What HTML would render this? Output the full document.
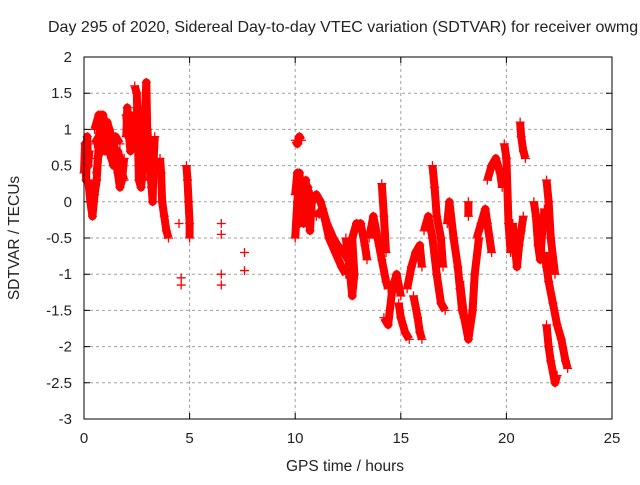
<!DOCTYPE html>
<html><head><meta charset="utf-8"><style>
body{margin:0;background:#fff;}
svg text{font-family:"Liberation Sans",sans-serif;fill:#222;}
</style></head><body>
<svg id="chart" width="640" height="480" xmlns="http://www.w3.org/2000/svg">
<text x="48" y="32" font-size="16">Day 295 of 2020, Sidereal Day-to-day VTEC variation (SDTVAR) for receiver owmg</text>
<text transform="translate(19,238) rotate(-90)" text-anchor="middle" font-size="15.5">SDTVAR / TECUs</text>
<text x="345" y="471" text-anchor="middle" font-size="15.5">GPS time / hours</text>
<g id="grid"></g>
<g id="ticks"></g>
<g id="marks"></g>
<rect x="84" y="57" width="528" height="362" fill="none" stroke="#000" stroke-width="1"/>
</svg>
<script>
const xTicks=[0,5,10,15,20,25];
const xTickLabels=["0","5","10","15","20","25"];
const yTicks=[2,1.5,1,0.5,0,-0.5,-1,-1.5,-2,-2.5,-3];
const yTickLabels=["2","1.5","1","0.5","0","-0.5","-1","-1.5","-2","-2.5","-3"];
const arcs=[
[[0,0.4],[0.05,0.8],[0.1,0.3],[0.15,0.9],[0.2,0.5],[0.25,0.7]],
[[0.2,0.3],[0.3,0],[0.4,-0.2],[0.5,0.1],[0.6,0.3],[0.7,0.8],[0.8,1.2]],
[[0.5,1.0],[0.7,1.2],[0.9,1.0],[1.0,0.7],[1.1,1.1],[1.2,1.0],[1.4,0.8],[1.5,0.6],[1.6,0.4],[1.7,0.2],[1.8,0.3],[1.9,0.6]],
[[0.6,0.6],[0.8,0.7],[1.0,0.9],[1.3,0.6],[1.5,0.9],[1.7,0.8]],
[[0.5,0.8],[0.7,0.9],[0.9,1.2],[1.1,0.8],[1.3,0.9],[1.5,0.7],[1.7,0.5],[1.9,0.3]],
[[0.6,0.4],[0.8,1.0],[1.0,1.1],[1.2,0.7],[1.4,0.5],[1.6,0.7],[1.8,0.5]],
[[2.0,0.9],[2.05,1.3],[2.1,1.0],[2.2,0.7],[2.3,1.1]],
[[2.0,1.2],[2.1,0.9],[2.2,1.2],[2.3,1.0]],
[[2.4,1.6],[2.5,1.5],[2.55,0.9],[2.6,0.3],[2.7,0.2],[2.8,0.5],[2.9,1.3],[2.95,1.65],[3.0,0.9]],
[[2.5,1.3],[2.6,1.0],[2.7,0.5],[2.8,0.3]],
[[3.0,1.0],[3.1,0.6],[3.2,0.2],[3.25,0],[3.3,0.6],[3.35,0.9]],
[[3.6,0.6],[3.65,0.4],[3.7,0],[3.8,-0.2],[3.9,-0.4],[4.0,-0.5]],
[[4.5,-0.3]],[[4.6,-1.05]],[[4.6,-1.15]],
[[4.85,0.5],[4.9,0.3],[4.95,0],[5.0,-0.3],[5.0,-0.5]],
[[6.5,-0.3]],[[6.5,-0.45]],[[6.5,-1.0]],[[6.5,-1.15]],[[7.6,-0.7]],[[7.6,-0.95]],
[[10.0,0.85],[10.1,0.8],[10.2,0.9],[10.3,0.85]],
[[10.0,-0.5],[10.1,0],[10.2,0.4],[10.3,-0.2],[10.4,0.2],[10.5,0.3],[10.6,-0.3],[10.7,0.1],[10.8,-0.2]],
[[10.0,0.1],[10.1,0.4],[10.2,-0.3],[10.3,0.3],[10.4,-0.3],[10.5,0],[10.6,0.2],[10.7,-0.4],[10.8,0.1]],
[[10.8,0],[11.0,0.1],[11.2,0],[11.5,-0.3],[11.8,-0.5],[12.0,-0.6],[12.3,-0.7],[12.5,-0.8]],
[[11.0,-0.2],[11.3,-0.1],[11.6,-0.5],[11.9,-0.7],[12.2,-0.9],[12.4,-1.0]],
[[12.4,-0.5],[12.6,-1.0],[12.7,-1.3],[12.8,-1.0],[12.7,-0.5],[12.9,-0.3],[13.1,-0.3],[13.3,-0.6],[13.4,-0.8]],
[[13.5,-0.5],[13.7,-0.2],[13.9,-0.5],[14.1,-0.8],[14.3,-1.1],[14.4,-1.2]],
[[14.1,0.25],[14.2,-0.2],[14.3,-0.7]],
[[14.2,-1.6],[14.4,-1.7],[14.6,-1.2],[14.8,-1.0],[15.0,-1.3]],
[[14.9,-1.4],[15.0,-1.6],[15.2,-1.8],[15.4,-1.9]],
[[15.3,-1.2],[15.5,-0.9],[15.7,-0.7],[15.9,-0.6],[16.0,-0.9]],
[[15.6,-1.3],[15.8,-1.6],[15.9,-1.8],[16.0,-1.9]],
[[16.1,-0.4],[16.3,-0.2],[16.5,-0.5],[16.7,-1.0],[16.9,-1.4],[17.1,-1.5]],
[[16.5,0.5],[16.6,0.2],[16.7,-0.2],[16.9,-0.5],[17.0,-0.9]],
[[17.2,-0.3],[17.3,0],[17.5,-0.5],[17.7,-0.9],[17.8,-1.2],[17.9,-1.5],[18.1,-1.7]],
[[17.8,-1.1],[18.0,-1.6],[18.2,-1.9],[18.4,-1.5],[18.5,-1.0],[18.7,-0.5]],
[[18.2,0.0],[18.2,-0.2]],
[[18.6,-0.5],[18.8,-0.3],[19.0,-0.1],[19.1,-0.3],[19.3,-0.7]],
[[19.1,0.3],[19.3,0.5],[19.5,0.6],[19.7,0.4],[19.8,0.2]],
[[19.9,0.8],[20.0,0.6],[20.1,-0.3],[20.2,-0.7]],
[[20.3,-0.3],[20.4,-0.6],[20.5,-0.9],[20.6,-0.6],[20.7,-0.4],[20.8,-0.2]],
[[20.65,1.1],[20.7,0.9],[20.8,0.7],[20.9,0.6]],
[[21.3,0],[21.4,-0.2],[21.5,-0.6],[21.6,-0.8],[21.7,-0.4],[21.8,-0.1]],
[[21.8,-0.7],[21.9,-0.9],[22.0,-1.1],[22.2,-1.4],[22.4,-1.7],[22.6,-1.9],[22.8,-2.2],[22.9,-2.3]],
[[21.9,-1.7],[22.0,-2.0],[22.1,-2.2],[22.3,-2.5],[22.4,-2.4]],
[[21.9,0.3],[22.0,0.0],[22.1,-0.5],[22.3,-1.0]]
];
const NS="http://www.w3.org/2000/svg";
const X0=84,X1=612,Y0=57,Y1=419;
function sx(t){return X0+(t-0)/(25-0)*(X1-X0);}
function sy(v){return Y0+(2-v)/(2-(-3))*(Y1-Y0);}
function mk(tag,attrs,parent){const e=document.createElementNS(NS,tag);for(const k in attrs)e.setAttribute(k,attrs[k]);parent.appendChild(e);return e;}
const grid=document.getElementById('grid'),ticks=document.getElementById('ticks'),marks=document.getElementById('marks');
xTicks.forEach((t,i)=>{
  const x=sx(t);
  if(i>0&&i<xTicks.length-1){const g=mk('line',{x1:x,x2:x,y1:Y0,y2:Y1,stroke:'#a0a0a0','stroke-dasharray':'3,3'},grid);
  
  }
  const tk=mk('path',{d:`M${x},${Y1}v-6M${x},${Y0}v6`,stroke:'#000'},ticks);
  
  
  const l=mk('text',{x:x,y:443,'text-anchor':'middle','font-size':'15'},ticks);l.textContent=xTickLabels[i];
  
  
});
yTicks.forEach((v,i)=>{
  const y=sy(v);
  if(i>0&&i<yTicks.length-1){const g=mk('line',{x1:X0,x2:X1,y1:y,y2:y,stroke:'#a0a0a0','stroke-dasharray':'3,3'},grid);
  
  }
  const tk=mk('path',{d:`M${X0},${y}h6M${X1},${y}h-6`,stroke:'#000'},ticks);
  
  
  const l=mk('text',{x:72,y:y+5,'text-anchor':'end','font-size':'15'},ticks);l.textContent=yTickLabels[i];
  
  
});
arcs.forEach(arc=>{
  if(arc.length>1){
    const p=mk('polyline',{points:arc.map(d=>sx(d[0])+','+sy(d[1])).join(' '),fill:'none',stroke:'#ff0000','stroke-width':8,'stroke-linejoin':'round'},marks);
    
    
  }
  arc.forEach(d=>{
    const x=sx(d[0]),y=sy(d[1]);
    const m=mk('path',{d:`M${x-4.5},${y}h9M${x},${y-4.5}v9`,stroke:'#ff0000','stroke-width':1.3},marks);
    
    
  });
});
</script>
</body></html>
